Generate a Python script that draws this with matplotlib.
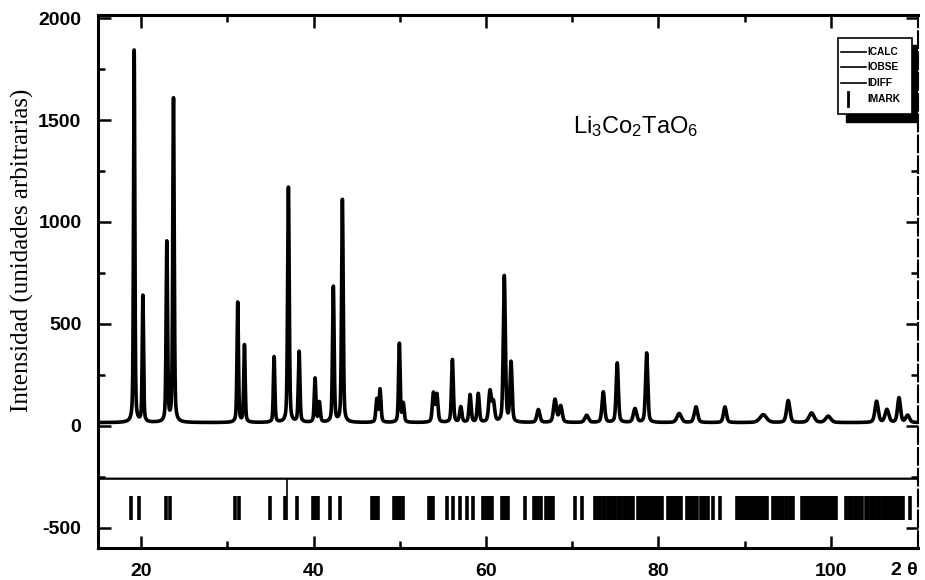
import numpy as np
import matplotlib
matplotlib.use('Agg')
import matplotlib.pyplot as plt
from matplotlib.patches import Rectangle

plt.rcParams['font.family'] = ['Liberation Sans', 'DejaVu Sans']
plt.rcParams['mathtext.fontset'] = 'custom'
plt.rcParams['mathtext.rm'] = 'Liberation Sans'
plt.rcParams['mathtext.it'] = 'Liberation Sans:italic'
plt.rcParams['axes.unicode_minus'] = False

# peak positions (2 theta), heights and widths (fwhm, deg)
peak_pos = [19.19, 20.2, 22.98, 23.75, 31.2, 31.98, 35.42, 37.08, 38.32, 40.17,
            40.67, 42.29, 43.34, 47.33, 47.71, 49.95, 50.4, 53.9, 54.3, 56.1,
            57.07, 58.15, 59.1, 60.46, 60.85, 62.12, 62.9, 66.07, 68.0, 68.66,
            71.67, 73.6, 75.22, 77.28, 78.63, 82.4, 84.35, 87.71, 92.15, 95.05,
            97.76, 99.69, 105.3, 106.5, 107.9, 108.9]
peak_int = [1846, 634, 896, 1603, 604, 394, 337, 1170, 361, 230,
            112, 680, 1108, 127, 176, 402, 105, 157, 150, 323,
            90, 150, 155, 165, 110, 732, 307, 78, 127, 95,
            50, 165, 307, 82, 356, 59, 92, 92, 54, 123,
            62, 46, 119, 78, 136, 50]
peak_fwhm = [0.18, 0.18, 0.2, 0.2, 0.2, 0.2, 0.2, 0.22, 0.22, 0.22,
             0.25, 0.22, 0.22, 0.25, 0.25, 0.22, 0.25, 0.3, 0.3, 0.25,
             0.3, 0.28, 0.28, 0.35, 0.35, 0.28, 0.28, 0.4, 0.4, 0.4,
             0.5, 0.35, 0.3, 0.45, 0.3, 0.6, 0.45, 0.4, 0.9, 0.45,
             0.7, 0.7, 0.45, 0.5, 0.4, 0.5]
background = 15
diff_offset = -260

# reflection marks (IMARK)
marks = [18.85, 19.75, 22.9, 23.3, 30.9, 31.35, 34.95, 36.7, 38.05, 39.95,
         40.2, 40.5, 41.9, 43.05, 46.8, 47.05, 47.3, 47.5, 49.3, 49.55,
         49.8, 50.05, 50.35, 53.35, 53.6, 53.85, 55.45, 56.2, 57.0, 57.75,
         58.45, 59.7, 59.95, 60.2, 60.45, 60.65, 61.85, 62.1, 62.35, 62.6,
         64.5, 65.6, 65.85, 66.1, 66.4, 67.0, 67.25, 67.5, 67.75, 70.3,
         71.1, 72.65, 72.95, 73.2, 73.6, 73.85, 74.1, 74.3, 74.55, 74.8,
         75.0, 75.25, 75.5, 75.7, 75.95, 76.2, 76.4, 76.65, 76.85, 77.05,
         77.65, 77.9, 78.1, 78.35, 78.6, 78.8, 79.05, 79.3, 79.5, 79.75,
         80.0, 80.2, 80.45, 81.15, 81.4, 81.65, 81.9, 82.1, 82.35, 82.6,
         83.3, 83.55, 83.8, 84.05, 84.25, 84.5, 84.95, 85.2, 85.45, 85.8,
         86.35, 87.1, 89.1, 89.35, 89.55, 89.8, 90.05, 90.3, 90.5, 90.75,
         91.0, 91.2, 91.45, 91.7, 91.9, 92.15, 92.4, 92.55, 93.3, 93.55,
         93.8, 94.0, 94.25, 94.5, 94.75, 94.95, 95.2, 95.45, 95.6, 96.6,
         96.85, 97.1, 97.3, 97.55, 97.8, 98.0, 98.25, 98.5, 98.75, 98.95,
         99.2, 99.45, 99.65, 99.9, 100.15, 100.4, 100.65, 101.8, 102.05, 102.3,
         102.5, 102.75, 103.0, 103.2, 103.45, 103.6, 104.1, 104.35, 104.6, 104.8,
         105.05, 105.3, 105.55, 105.75, 106.0, 106.25, 106.5, 106.7, 106.95, 107.2,
         107.4, 107.65, 107.9, 108.15, 108.4, 109.2]
long_mark = 36.9


def profile(x):
    y = np.full_like(x, background, dtype=float)
    for p, h, w in zip(peak_pos, peak_int, peak_fwhm):
        a = h - background
        g = np.exp(-4 * np.log(2) * ((x - p) / w) ** 2)
        l = 1 / (1 + 4 * ((x - p) / w) ** 2)
        y += a * (0.6 * g + 0.4 * l)
    return y


x = np.linspace(15, 110.1, 9000)
obs = profile(x)
calc = profile(x)
diff = obs - calc + diff_offset

fig = plt.figure(figsize=(9.25, 5.8), dpi=100)
ax = fig.add_axes([0.106, 0.0552, 0.8864, 0.9188])

ax.plot(x, obs, color='black', lw=2.6)
ax.plot(x, calc, color='black', lw=1.2)
ax.plot(x, diff, color='black', lw=1.6)
ax.vlines(marks, -347, -465, color='black', lw=2.6)
ax.vlines(long_mark, diff_offset, -465, color='black', lw=1.2)

ax.set_xlim(15, 110.1)
ax.set_ylim(-600, 2015)
ax.set_xticks([20, 40, 60, 80, 100])
ax.set_xticks([30, 50, 70, 90], minor=True)
ax.set_yticks([-500, 0, 500, 1000, 1500, 2000])
ax.set_yticks([-250, 250, 750, 1250, 1750], minor=True)
ax.tick_params(which='both', direction='in', top=True, right=True, width=1.8)
ax.tick_params(which='major', length=9)
ax.tick_params(which='minor', length=5)
ax.tick_params(axis='x', which='major', pad=11)
ax.tick_params(axis='y', which='major', pad=12)
for lab in ax.get_xticklabels() + ax.get_yticklabels():
    lab.set_fontsize(14)
    lab.set_fontweight('bold')
for s in ['left', 'top', 'bottom']:
    ax.spines[s].set_linewidth(2.2)
ax.spines['right'].set_linewidth(1.5)
ax.spines['right'].set_linestyle((0, (8, 2)))

ax.set_ylabel('Intensidad (unidades arbitrarias)', fontfamily='Liberation Serif',
              fontsize=18)
ax.yaxis.set_label_coords(-0.078, 0.559)
ax.text(1.0, -0.026, '2 θ', transform=ax.transAxes, ha='right', va='top',
        fontsize=14, fontweight='bold')

ax.text(77.4, 1466, r'Li$_3$Co$_2$TaO$_6$', ha='center', va='center', fontsize=17)

# legend box with black drop shadow
ax.add_patch(Rectangle((0.912, 0.8), 0.09, 0.143, transform=ax.transAxes,
                       facecolor='black', edgecolor='black', zorder=5))
ax.add_patch(Rectangle((0.902, 0.814), 0.091, 0.143, transform=ax.transAxes,
                       facecolor='white', edgecolor='black', lw=1.2, zorder=6))
leg_names = ['ICALC', 'IOBSE', 'IDIFF']
leg_y = [0.931, 0.903, 0.872]
for name, ly in zip(leg_names, leg_y):
    ax.plot([0.906, 0.937], [ly, ly], transform=ax.transAxes, color='black',
            lw=1.2, zorder=7)
    ax.text(0.938, ly, name, transform=ax.transAxes, va='center', ha='left',
            fontsize=7.3, fontweight='bold', zorder=7)
ax.plot([0.915, 0.915], [0.829, 0.856], transform=ax.transAxes, color='black',
        lw=2, zorder=7)
ax.text(0.938, 0.842, 'IMARK', transform=ax.transAxes, va='center', ha='left',
        fontsize=7.3, fontweight='bold', zorder=7)

fig.savefig('out.png', dpi=100)
